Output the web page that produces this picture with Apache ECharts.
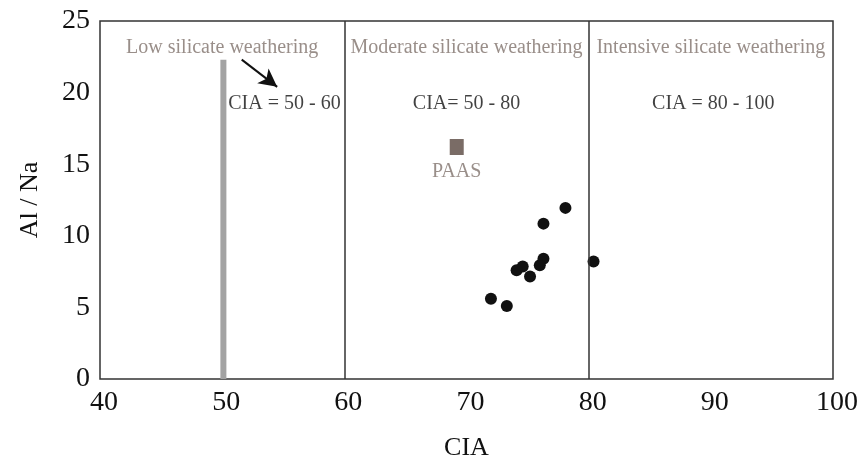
<!DOCTYPE html>
<html>
<head>
<meta charset="utf-8">
<script src="https://cdn.jsdelivr.net/npm/echarts@6/dist/echarts.min.js"></script>
<style>
  body { margin: 0; background: #fff; }
</style>
</head>
<body>
<div id="myChart" style="width: 865px; height: 468px;"></div>
<script>
// samples: CIA vs Al/Na
var cia = [78.1, 76.3, 76.3, 76.0, 74.6, 74.1, 75.2, 72.0, 73.3, 80.4];
var alna = [11.95, 10.85, 8.4, 7.95, 7.85, 7.6, 7.15, 5.6, 5.1, 8.2];

// PAAS reference point
var paas = [69.2, 16.2];

// zone boundaries and the low weathering bar
var zoneLines = [60, 80];
var lowBar = [[50.1, 0], [50.1, 22.3]];
var arrowLine = [[51.6, 22.3], [54.5, 20.4]];

// annotations [x, y, text]
var zoneTitles = [
  [50, 23.1, 'Low silicate weathering'],
  [70, 23.15, 'Moderate silicate weathering'],
  [90, 23.15, 'Intensive silicate weathering']
];
var zoneRanges = [
  [55.1, 19.2, 'CIA = 50 - 60'],
  [70, 19.25, 'CIA= 50 - 80'],
  [90.2, 19.25, 'CIA = 80 - 100']
];
var paasLabel = [69.2, 14.45, 'PAAS'];

var xTicks = [40, 100, 10];
var yTicks = [0, 25, 5];

var serif = '"Liberation Serif", "Times New Roman", serif';
var brown = '#7f726c';

function textSeries(rows, color) {
  return {
    type: 'scatter',
    symbol: 'circle',
    symbolSize: 1,
    silent: true,
    itemStyle: { color: 'rgba(0,0,0,0)' },
    data: rows.map(function (r) {
      return { value: [r[0], r[1]], label: { formatter: r[2] } };
    }),
    label: {
      show: true,
      position: 'inside',
      color: color,
      fontFamily: serif,
      fontSize: 20
    }
  };
}

var myChart = echarts.init(document.getElementById('myChart'));
var option = {
  animation: false,
  grid: {
    left: 100, right: 32, top: 21, bottom: 89,
    show: true, borderColor: '#333', borderWidth: 1.5
  },
  xAxis: {
    type: 'value',
    min: xTicks[0], max: xTicks[1], interval: xTicks[2],
    name: 'CIA', nameLocation: 'middle', nameGap: 56,
    nameTextStyle: { fontFamily: serif, fontSize: 26, color: '#111' },
    axisLine: { show: false },
    axisTick: { show: false },
    splitLine: { show: false },
    axisLabel: { fontFamily: serif, fontSize: 28, color: '#111', margin: 10, padding: [0, 0, 0, 8] }
  },
  yAxis: {
    type: 'value',
    min: yTicks[0], max: yTicks[1], interval: yTicks[2],
    name: 'Al / Na', nameLocation: 'middle', nameGap: 57,
    nameTextStyle: { fontFamily: serif, fontSize: 26, color: '#111' },
    axisLine: { show: false },
    axisTick: { show: false },
    splitLine: { show: false },
    axisLabel: { fontFamily: serif, fontSize: 28, color: '#111', margin: 10 }
  },
  series: [
    {
      type: 'line',
      data: lowBar,
      symbol: 'none',
      silent: true,
      lineStyle: { color: '#a3a3a3', width: 6 },
      markLine: {
        silent: true,
        symbol: 'none',
        label: { show: false },
        lineStyle: { color: '#333', width: 1.5, type: 'solid' },
        data: zoneLines.map(function (v) { return { xAxis: v }; })
      }
    },
    {
      type: 'line',
      data: [],
      markLine: {
        silent: true,
        symbol: ['none', 'arrow'],
        symbolSize: [14, 18],
        label: { show: false },
        lineStyle: { color: '#111', width: 2, type: 'solid' },
        data: [[{ coord: arrowLine[0] }, { coord: arrowLine[1] }]]
      }
    },
    {
      type: 'scatter',
      data: cia.map(function (x, i) { return [x, alna[i]]; }),
      symbolSize: 12,
      itemStyle: { color: '#111', opacity: 1 }
    },
    {
      type: 'scatter',
      data: [paas],
      symbol: 'rect',
      symbolSize: [14, 16],
      itemStyle: { color: '#7a6c66', opacity: 1 }
    },
    textSeries(zoneTitles, brown),
    textSeries(zoneRanges, '#111'),
    textSeries([paasLabel], brown)
  ]
};
myChart.setOption(option);
</script>
</body>
</html>
